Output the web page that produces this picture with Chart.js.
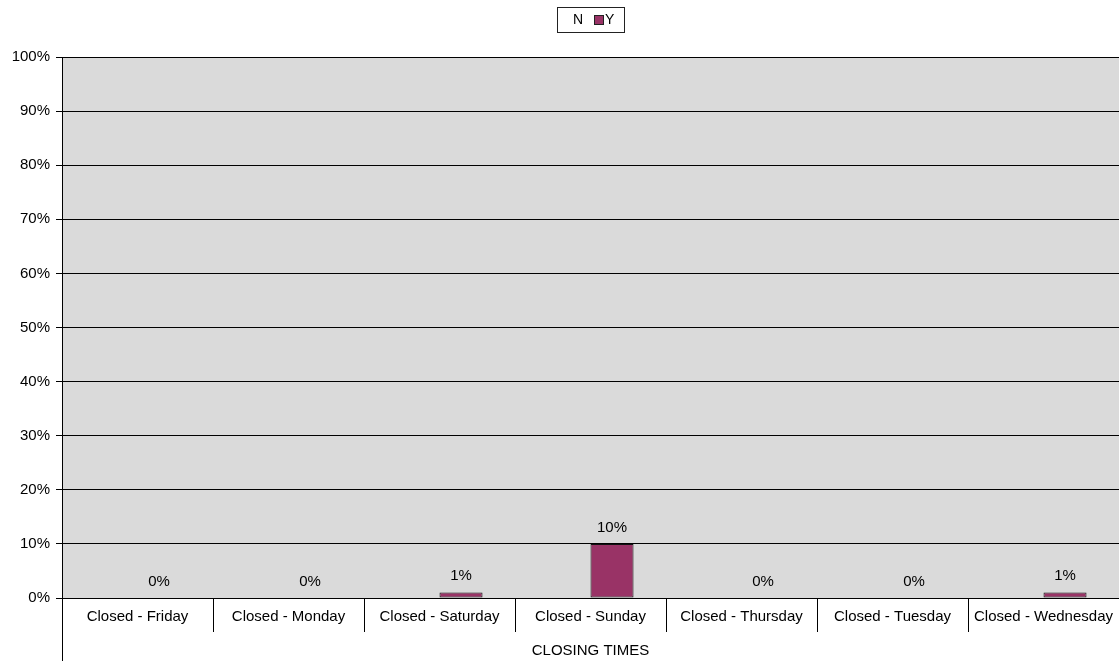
<!DOCTYPE html>
<html>
<head>
<meta charset="utf-8">
<script src="https://cdn.jsdelivr.net/npm/chart.js@4/dist/chart.umd.min.js"></script>
<style>
  html, body { margin: 0; padding: 0; background: #fff; }
  #wrap { width: 1119px; height: 661px; }
</style>
</head>
<body>
<div id="wrap"><canvas id="chart" width="1119" height="661"></canvas></div>
<script>
const categories = ['Closed - Friday', 'Closed - Monday', 'Closed - Saturday', 'Closed - Sunday',
  'Closed - Thursday', 'Closed - Tuesday', 'Closed - Wednesday'];
const seriesN = [0, 0, 0, 0, 0, 0, 0];
const seriesY = [0, 0, 1, 10, 0, 0, 1];
const yTicks = [0, 10, 20, 30, 40, 50, 60, 70, 80, 90, 100];
const axisTitle = 'CLOSING TIMES';

const FONT = '"Liberation Sans", Arial, sans-serif';
const PLUM = '#993366';

// grey plot background, data labels, legend box, axis title
const decor = {
  id: 'decor',
  beforeDraw(chart) {
    const { ctx, chartArea: a } = chart;
    ctx.save();
    ctx.fillStyle = '#dadada';
    ctx.fillRect(a.left, a.top, a.right - a.left, a.bottom - a.top);
    ctx.restore();
  },
  afterDraw(chart) {
    const { ctx, chartArea: a } = chart;
    const x = chart.scales.x;
    ctx.save();
    // y axis line continues down past category labels
    ctx.strokeStyle = '#000';
    ctx.lineWidth = 1;
    ctx.beginPath();
    ctx.moveTo(a.left + 0.5, a.bottom);
    ctx.lineTo(a.left + 0.5, chart.height);
    ctx.stroke();

    // value labels over Y bars
    ctx.font = '15px ' + FONT;
    ctx.fillStyle = '#000';
    ctx.textAlign = 'center';
    ctx.textBaseline = 'bottom';
    chart.getDatasetMeta(1).data.forEach((bar, i) => {
      ctx.fillText(seriesY[i] + '%', bar.x, bar.y - 9);
    });

    // axis title
    ctx.textBaseline = 'middle';
    ctx.fillText(axisTitle, (x.left + x.right) / 2, chart.height - 10);

    // legend
    const lx = 557, ly = 7, lw = 67, lh = 25;
    ctx.fillStyle = '#fff';
    ctx.fillRect(lx, ly, lw, lh);
    ctx.strokeStyle = '#222';
    ctx.strokeRect(lx + 0.5, ly + 0.5, lw, lh);
    ctx.font = '14px ' + FONT;
    ctx.fillStyle = '#000';
    ctx.textAlign = 'left';
    ctx.fillText('N', lx + 16, ly + lh / 2 + 1);
    ctx.fillStyle = PLUM;
    ctx.fillRect(lx + 37, ly + 8, 9, 9);
    ctx.strokeRect(lx + 37.5, ly + 8.5, 9, 9);
    ctx.fillStyle = '#000';
    ctx.fillText('Y', lx + 48, ly + lh / 2 + 1);
    ctx.restore();
  }
};

new Chart(document.getElementById('chart'), {
  type: 'bar',
  data: {
    labels: categories,
    datasets: [
      { label: 'N', data: seriesN, backgroundColor: 'rgba(0,0,0,0)', borderWidth: 0 },
      { label: 'Y', data: seriesY, backgroundColor: PLUM, borderColor: '#111', borderWidth: 1, borderSkipped: false }
    ]
  },
  options: {
    responsive: false,
    animation: false,
    layout: { padding: { top: 57, right: 0, bottom: 0, left: 0 } },
    plugins: { legend: { display: false }, tooltip: { enabled: false } },
    datasets: { bar: { categoryPercentage: 0.57, barPercentage: 1 } },
    scales: {
      x: {
        grid: { offset: true, drawOnChartArea: false, tickLength: 34, color: '#000', lineWidth: 1 },
        border: { color: '#000' },
        ticks: { color: '#000', font: { family: FONT, size: 15 }, padding: -24, maxRotation: 0, autoSkip: false },
        afterFit(s) { s.height = 63; }
      },
      y: {
        min: 0, max: 100,
        afterBuildTicks(s) { s.ticks = yTicks.map(v => ({ value: v })); },
        grid: { color: '#000', lineWidth: 1, tickLength: 6 },
        border: { color: '#000' },
        ticks: { color: '#000', font: { family: FONT, size: 15 }, padding: 6, callback: v => v + '%' },
        afterFit(s) { s.width = 62; }
      }
    }
  },
  plugins: [decor]
});
</script>
</body>
</html>
